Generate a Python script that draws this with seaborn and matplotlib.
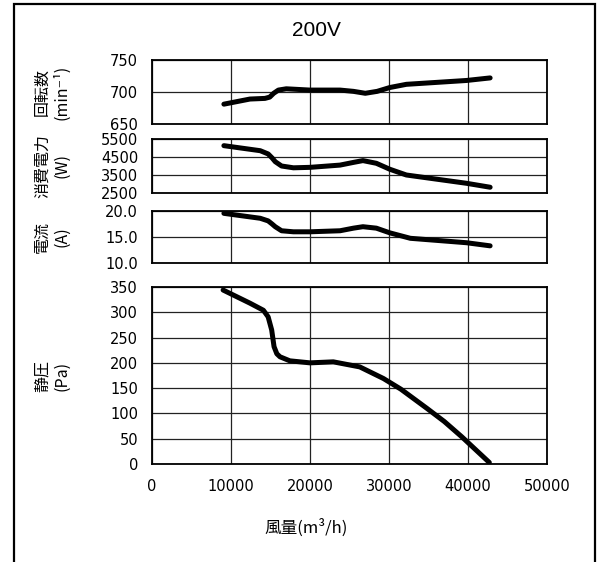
import matplotlib
matplotlib.use("Agg")
import matplotlib.pyplot as plt
import seaborn as sns
import pandas as pd
from matplotlib.patches import Rectangle

# ---- data ----
title = "200V"
xlabel = "風量(m³/h)"

rpm_x = [9100, 12400, 14300, 14900, 15400, 16000, 17000, 20000, 23800, 25500, 27000, 28500, 30100, 32200, 39800, 42800]
rpm_y = [681, 689, 690, 692, 698, 703, 705, 703, 703, 701, 698, 701, 707, 712, 718, 722]

pow_x = [9100, 13700, 14700, 15200, 15600, 16400, 17900, 20000, 23800, 25500, 26700, 28400, 30100, 32200, 39800, 42800]
pow_y = [5130, 4850, 4670, 4450, 4240, 4000, 3900, 3925, 4050, 4200, 4300, 4150, 3820, 3500, 3040, 2820]

cur_x = [9100, 13700, 14700, 15200, 15600, 16400, 17900, 20000, 23800, 25500, 26700, 28400, 30100, 32700, 39800, 42800]
cur_y = [19.55, 18.6, 18.1, 17.5, 16.98, 16.2, 16.0, 16.0, 16.2, 16.7, 16.98, 16.7, 15.8, 14.75, 13.9, 13.3]

sp_x = [9000, 12400, 14100, 14700, 15150, 15450, 15800, 16200, 17450, 20000, 22950, 26300, 29300, 31500, 34800, 37000, 39200, 42700]
sp_y = [344, 318, 304, 291, 265, 232, 218, 212, 204, 200, 202, 192, 169, 148, 110, 84, 54, 3]

xticks = [0, 10000, 20000, 30000, 40000, 50000]
rpm_ticks = [650, 700, 750]
pow_ticks = [2500, 3500, 4500, 5500]
cur_ticks = [10.0, 15.0, 20.0]
sp_ticks = [0, 50, 100, 150, 200, 250, 300, 350]

ylabels = ["回転数\n(min⁻¹)", "消費電力\n(W)", "電流\n(A)", "静圧\n(Pa)"]

# ---- styling ----
sns.set_style("white")
plt.rcParams['font.family'] = ['Noto Sans CJK JP', 'DejaVu Sans']
plt.rcParams['text.color'] = 'black'
plt.rcParams['axes.labelcolor'] = 'black'
plt.rcParams['xtick.color'] = 'black'
plt.rcParams['ytick.color'] = 'black'

W, H = 605, 562
fig = plt.figure(figsize=(W / 100, H / 100), dpi=100)

def frac_rect(top, bottom, left=152, right=547):
    return [left / W, 1 - bottom / H, (right - left) / W, (bottom - top) / H]

panels = [
    (rpm_x, rpm_y, (650, 750), rpm_ticks, "{:.0f}", (60, 124)),
    (pow_x, pow_y, (2500, 5500), pow_ticks, "{:.0f}", (139, 193)),
    (cur_x, cur_y, (10, 20), cur_ticks, "{:.1f}", (211, 263)),
    (sp_x, sp_y, (0, 350), sp_ticks, "{:.0f}", (287, 464)),
]

tick_font = dict(family="DejaVu Sans", size=10.5, color="black")

for i, (xs, ys, ylim, yt, fmt, (top, bot)) in enumerate(panels):
    ax = fig.add_axes(frac_rect(top, bot))
    df = pd.DataFrame({"x": xs, "y": ys})
    sns.lineplot(data=df, x="x", y="y", ax=ax, color="black", linewidth=3.6,
                 estimator=None, sort=False)
    for ln in ax.get_lines():
        ln.set_solid_joinstyle("round")
    ax.set_xlim(0, 50000)
    ax.set_ylim(*ylim)
    ax.set_xticks(xticks)
    ax.set_yticks(yt)
    ax.set_yticklabels([fmt.format(v) for v in yt], fontdict=tick_font)
    ax.grid(True, color="#222222", linewidth=0.9)
    ax.set_axisbelow(True)
    for s in ax.spines.values():
        s.set_color("black")
        s.set_linewidth(1.3)
    ax.tick_params(axis="both", length=0, pad=10)
    ax.set_xlabel("")
    ax.set_ylabel("")
    if i < 3:
        ax.set_xticklabels([])
    else:
        ax.set_xticklabels([str(v) for v in xticks], fontdict=tick_font)
        ax.tick_params(axis="x", pad=11)
    fig.text(52 / W, 1 - ((top + bot) / 2) / H, ylabels[i], rotation=90,
             ha="center", va="center", multialignment="center", fontsize=11.5,
             linespacing=1.15, color="black")

fig.text(316 / W, 1 - 30 / H, title, ha="center", va="center", fontsize=15,
         family=["Liberation Sans", "DejaVu Sans"], color="black")
fig.text(306 / W, 1 - 528 / H, xlabel, ha="center", va="center", fontsize=12,
         color="black")

# outer frame
fig.patches.append(Rectangle((14 / W, -0.05), (595 - 14) / W, 1.05 - 4 / H,
                             transform=fig.transFigure, fill=False,
                             edgecolor="black", linewidth=1.6))

fig.savefig("out.png", dpi=100)
